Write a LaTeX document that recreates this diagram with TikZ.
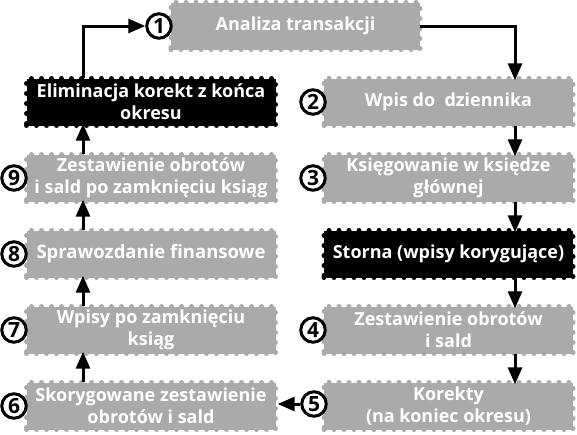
\documentclass[tikz,border=0pt]{standalone}
\usepackage{fontspec}
\setmainfont{Open Sans}
\usetikzlibrary{arrows.meta}
\definecolor{boxgray}{RGB}{170,170,170}
\tikzset{
  stamp/.style={rectangle, fill=#1, minimum width=249pt, minimum height=47pt, inner sep=0pt,
    align=center, text=white, font=\fontsize{18}{22}\selectfont\bfseries,
    postaction={draw=#1, line width=5pt, dash pattern=on 0pt off 10pt, line cap=round}},
  graybox/.style={stamp=boxgray},
  blackbox/.style={stamp=black},
  numcirc/.style={circle, draw=black, line width=3pt, fill=white, minimum size=24.5pt, inner sep=0pt,
    font=\fontsize{21}{21}\selectfont\bfseries},
  arr/.style={line width=3pt, -{Triangle[length=17pt,width=14pt]}}
}
\begin{document}
\begin{tikzpicture}[x=1pt,y=-1pt]
\useasboundingbox (0,0) rectangle (577,434);
\node[graybox] (b1) at (295.5,26) {Analiza transakcji};
\node[blackbox] (elim) at (151,102) {Eliminacja korekt z końca\\okresu};
\node[graybox] (b2) at (448.5,102) {Wpis do\ \ dziennika};
\node[graybox] (b9) at (151,178) {Zestawienie obrotów\\i sald po zamknięciu ksiąg};
\node[graybox] (b3) at (448.5,178) {Księgowanie w księdze\\głównej};
\node[graybox, font=\fontsize{18.5}{22}\selectfont\bfseries] (b8) at (151,254) {Sprawozdanie finansowe};
\node[blackbox] (st) at (448.5,254) {Storna (wpisy korygujące)};
\node[graybox] (b7) at (151,330) {Wpisy po zamknięciu\\ksiąg};
\node[graybox] (b4) at (448.5,330) {Zestawienie obrotów\\i sald};
\node[graybox] (b6) at (151,406) {Skorygowane zestawienie\\obrotów i sald};
\node[graybox] (b5) at (448.5,406) {Korekty\\(na koniec okresu)};
\node[numcirc] (c1) at (159,26) {1};
\node[numcirc] (c2) at (313,102) {2};
\node[numcirc] (c3) at (313,178) {3};
\node[numcirc] (c4) at (313,330) {4};
\node[numcirc] (c5) at (314,404) {5};
\node[numcirc] (c6) at (14,406) {6};
\node[numcirc] (c7) at (14,330) {7};
\node[numcirc] (c8) at (14,254) {8};
\node[numcirc] (c9) at (14,178) {9};
\coordinate (rx) at (515,0);
\coordinate (lx) at (83,0);
\draw[arr] (b1.east) -| ([yshift=-2pt]b2.north -| rx);
\draw[arr] (b2.south -| rx) -- ([yshift=-2pt]b3.north -| rx);
\draw[arr] (b3.south -| rx) -- ([yshift=-2pt]st.north -| rx);
\draw[arr] (st.south -| rx) -- ([yshift=-2pt]b4.north -| rx);
\draw[arr] (b4.south -| rx) -- ([yshift=-2pt]b5.north -| rx);
\draw[arr] (c5.west) -- ([xshift=2pt]b6.east |- c5.west);
\draw[arr] (b6.north -| lx) -- ([yshift=2pt]b7.south -| lx);
\draw[arr] (b7.north -| lx) -- ([yshift=2pt]b8.south -| lx);
\draw[arr] (b8.north -| lx) -- ([yshift=2pt]b9.south -| lx);
\draw[arr] (b9.north -| lx) -- ([yshift=2pt]elim.south -| lx);
\draw[arr] (elim.north -| lx) |- (c1.west);
\end{tikzpicture}
\end{document}
